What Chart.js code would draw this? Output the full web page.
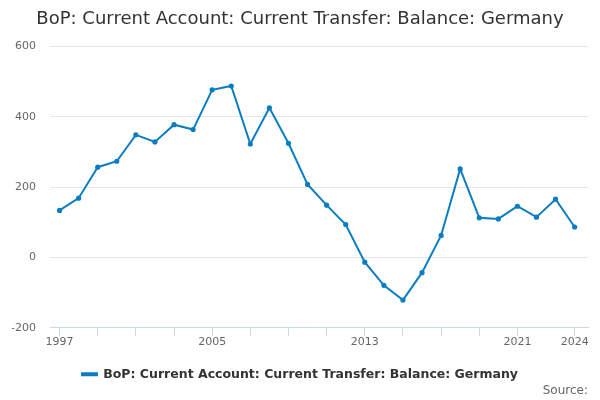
<!DOCTYPE html>
<html>
<head>
<meta charset="utf-8">
<script src="https://cdn.jsdelivr.net/npm/chart.js@4"></script>
<style>
  html, body { margin: 0; padding: 0; background: #fff; }
  #wrap { width: 600px; height: 400px; }
</style>
</head>
<body>
<div id="wrap"><canvas id="myChart"></canvas></div>
<script>
// data
var years = [1997, 1998, 1999, 2000, 2001, 2002, 2003, 2004, 2005, 2006, 2007, 2008, 2009, 2010,
             2011, 2012, 2013, 2014, 2015, 2016, 2017, 2018, 2019, 2020, 2021, 2022, 2023, 2024];
var values = [134, 169, 257, 274, 349, 329, 378, 364, 477, 488, 323, 426, 325, 208,
              149, 94, -13, -79, -121, -43, 63, 252, 113, 110, 146, 115, 166, 87];
var xTicks = [1997, 1999, 2001, 2003, 2005, 2007, 2009, 2011, 2013, 2015, 2017, 2019, 2021, 2024];
var xLabels = [1997, 2005, 2013, 2021, 2024];
var yTicks = [-200, 0, 200, 400, 600];
var seriesName = "BoP: Current Account: Current Transfer: Balance: Germany";

var lineColor = "#0a7dc2";
var font = "'DejaVu Sans', sans-serif";

var points = years.map(function (y, i) { return {x: y, y: values[i]}; });

new Chart("myChart", {
  type: "line",
  data: {
    datasets: [{
      label: seriesName,
      data: points,
      borderColor: lineColor,
      backgroundColor: lineColor,
      borderWidth: 2,
      pointRadius: 1.6,
      pointHoverRadius: 3,
      tension: 0
    }]
  },
  options: {
    responsive: true,
    maintainAspectRatio: false,
    animation: false,
    layout: {padding: {left: 12, right: 12, top: 0, bottom: 2}},
    plugins: {
      title: {
        display: true,
        text: "BoP: Current Account: Current Transfer: Balance: Germany",
        color: "#333333",
        font: {family: font, size: 18, weight: "normal"},
        padding: {top: 9, bottom: 16}
      },
      subtitle: {
        display: true,
        text: "Source:",
        position: "bottom",
        align: "end",
        color: "#666666",
        font: {family: font, size: 12, weight: "normal"},
        padding: {top: -7, bottom: 0}
      },
      legend: {
        position: "bottom",
        labels: {
          color: "#333333",
          font: {family: font, size: 12.5, weight: "bold"},
          boxWidth: 15,
          boxHeight: 2,
          padding: 6
        }
      },
      tooltip: {enabled: false}
    },
    scales: {
      x: {
        type: "linear",
        min: 1996.5,
        max: 2024.7,
        afterBuildTicks: function (axis) {
          axis.ticks = xTicks.map(function (v) { return {value: v}; });
        },
        afterFit: function (axis) { axis.height += 13; },
        ticks: {
          autoSkip: false,
          maxRotation: 0,
          color: "#666666",
          font: {family: font, size: 11},
          padding: 0,
          callback: function (v) { return xLabels.indexOf(v) >= 0 ? String(v) : ""; }
        },
        grid: {
          drawOnChartArea: false,
          drawTicks: true,
          tickLength: 8,
          color: "#ccd6eb"
        },
        border: {display: true, color: "#ccd6eb"}
      },
      y: {
        min: -200,
        max: 600,
        afterBuildTicks: function (axis) {
          axis.ticks = yTicks.map(function (v) { return {value: v}; });
        },
        afterFit: function (axis) { axis.width = 38; },
        ticks: {
          color: "#666666",
          font: {family: font, size: 11},
          padding: 14
        },
        grid: {color: "#e6e6e6", drawTicks: false},
        border: {display: false}
      }
    }
  }
});
</script>
</body>
</html>
